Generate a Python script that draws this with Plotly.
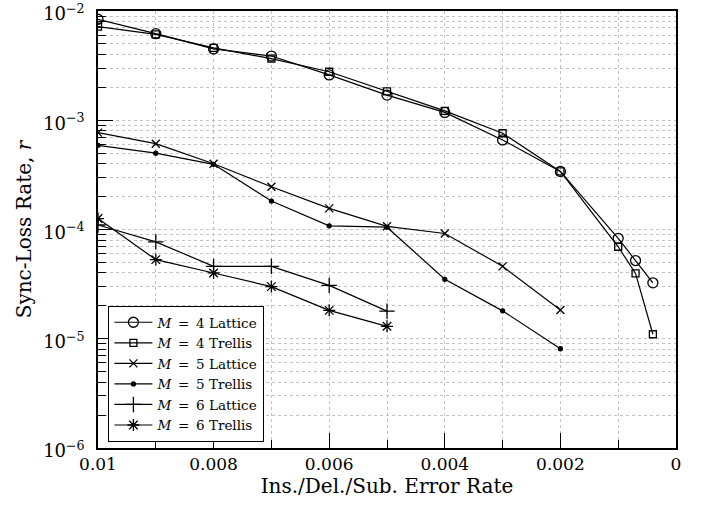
import plotly.graph_objects as go

x4 = [0.01, 0.009, 0.008, 0.007, 0.006, 0.005, 0.004, 0.003, 0.002, 0.001, 0.0007, 0.0004]
m4_lattice = [8.4e-3, 6.2e-3, 4.5e-3, 3.87e-3, 2.6e-3, 1.70e-3, 1.18e-3, 6.6e-4, 3.4e-4, 8.3e-5, 5.2e-5, 3.25e-5]
m4_trellis = [7.2e-3, 6.1e-3, 4.6e-3, 3.66e-3, 2.78e-3, 1.84e-3, 1.22e-3, 7.6e-4, 3.4e-4, 6.95e-5, 3.96e-5, 1.1e-5]

x5 = [0.01, 0.009, 0.008, 0.007, 0.006, 0.005, 0.004, 0.003, 0.002]
m5_lattice = [7.7e-4, 6.1e-4, 4.0e-4, 2.46e-4, 1.56e-4, 1.07e-4, 9.2e-5, 4.6e-5, 1.83e-5]
m5_trellis = [5.9e-4, 5.0e-4, 3.95e-4, 1.82e-4, 1.08e-4, 1.05e-4, 3.5e-5, 1.8e-5, 8.1e-6]

x6 = [0.01, 0.009, 0.008, 0.007, 0.006, 0.005]
m6_lattice = [1.1e-4, 7.7e-5, 4.6e-5, 4.6e-5, 3.08e-5, 1.79e-5]
m6_trellis = [1.26e-4, 5.3e-5, 4.0e-5, 3.0e-5, 1.82e-5, 1.30e-5]

x_tickvals = [0.01, 0.008, 0.006, 0.004, 0.002, 0]
x_ticktext = ["0.01", "0.008", "0.006", "0.004", "0.002", "0"]
y_tickvals = [1e-6, 1e-5, 1e-4, 1e-3, 1e-2]
y_ticktext = ["10<sup>−6</sup>", "10<sup>−5</sup>", "10<sup>−4</sup>", "10<sup>−3</sup>", "10<sup>−2</sup>"]
y_minor = [m * 10 ** e for e in range(-6, -2) for m in range(2, 10)]

sp = "\u2002"
series = [
    (f"<i>M</i>{sp}={sp}4 Lattice", x4, m4_lattice, "circle-open", 10),
    (f"<i>M</i>{sp}={sp}4 Trellis", x4, m4_trellis, "square-open", 7),
    (f"<i>M</i>{sp}={sp}5 Lattice", x5, m5_lattice, "x-thin-open", 8),
    (f"<i>M</i>{sp}={sp}5 Trellis", x5, m5_trellis, "circle", 4),
    (f"<i>M</i>{sp}={sp}6 Lattice", x6, m6_lattice, "cross-thin-open", 11),
    (f"<i>M</i>{sp}={sp}6 Trellis", x6, m6_trellis, "asterisk-open", 10),
]

fig = go.Figure()
for name, xs, ys, sym, sz in series:
    fig.add_trace(go.Scatter(
        x=xs, y=ys, name=name, mode="lines+markers",
        line=dict(color="black", width=1.2),
        marker=dict(symbol=sym, size=sz, color="black",
                    line=dict(color="black", width=1.3)),
    ))

font = dict(family="DejaVu Serif", size=17, color="black")
grid = dict(showgrid=True, gridcolor="#c2c2c2", griddash="dot", gridwidth=1)

fig.update_layout(
    width=709, height=506,
    margin=dict(l=98, r=33, t=11, b=58, autoexpand=False),
    paper_bgcolor="white", plot_bgcolor="white",
    font=font,
    showlegend=True,
    legend=dict(x=0.018, y=0.325, xanchor="left", yanchor="top",
                bordercolor="black", borderwidth=1, bgcolor="white",
                font=dict(family="DejaVu Serif", size=13.5, color="black"),
                tracegroupgap=0, itemwidth=38),
    xaxis=dict(
        range=[0.01, 0], tickvals=x_tickvals, ticktext=x_ticktext,
        ticks="inside", ticklen=15, tickcolor="black", automargin=False,
        showline=True, linecolor="black", linewidth=1.5, mirror=True,
        zeroline=False,
        title=dict(text="Ins./Del./Sub. Error Rate", standoff=0),
        minor=dict(dtick=0.001, tick0=0, ticks="inside", ticklen=8,
                   tickcolor="black", **grid),
        **grid,
    ),
    yaxis=dict(
        type="log", range=[-6, -2], tickvals=y_tickvals, ticktext=y_ticktext,
        tickfont=dict(family="DejaVu Serif", size=18, color="black"),
        ticks="inside", ticklen=15, tickcolor="black", ticklabelstandoff=8,
        ticklabelshift=3,
        ticklabeloverflow="allow", automargin=False,
        showline=True, linecolor="black", linewidth=1.5, mirror=True,
        zeroline=False,
        title=dict(text="Sync-Loss Rate, <i>r</i>", standoff=6),
        minor=dict(tickmode="array", tickvals=y_minor, ticks="inside", ticklen=8,
                   tickcolor="black", **grid),
        **grid,
    ),
)

fig.write_html("out.html", config={"displayModeBar": False},
               post_script="document.body.style.margin='0';")
